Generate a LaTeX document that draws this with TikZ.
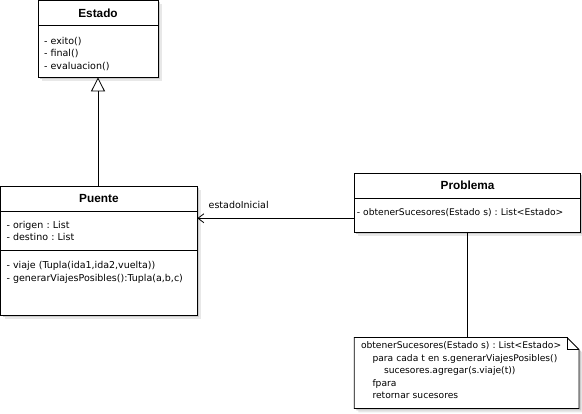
\documentclass[tikz,border=0pt]{standalone}
\usepackage{fontspec}
\setmainfont{DejaVu Sans}
\newfontfamily\titlefont{Liberation Sans}
\frenchspacing
\usetikzlibrary{positioning,shadows,arrows.meta,backgrounds}

\begin{document}
\begin{tikzpicture}[x=1pt,y=1pt]
      \tikzset{sombra/.style={general shadow={fill=black!9,shadow xshift=4pt,shadow yshift=-4pt},general shadow={fill=black!20,shadow xshift=2pt,shadow yshift=-2pt}}}
      \tikzset{titulo/.style={rectangle,draw,fill=white,sombra,line width=0.8pt,inner sep=0pt,outer sep=0pt,font=\titlefont\bfseries\fontsize{11.8}{14}\selectfont}}
      \tikzset{cuerpo/.style={rectangle,draw,fill=white,sombra,line width=0.8pt,inner ysep=0pt,inner xsep=6pt,outer sep=0pt,align=left,font=\fontsize{9.5}{12.5}\selectfont}}
      \tikzset{nota/.style={rectangle,inner ysep=0pt,inner xsep=6.7pt,outer sep=0pt,align=left,font=\fontsize{9.15}{12.6}\selectfont}}
      \tikzset{hoja/.style={draw,fill=white,sombra,line width=0.8pt}}
      \tikzset{gen/.style={-{Triangle[fill=white,length=14pt,width=14pt]},line width=0.8pt}}
      \tikzset{asoc/.style={-{Straight Barb[length=6pt,width=9pt]},line width=0.8pt}}
      \tikzset{linea/.style={line width=0.8pt}}

      \useasboundingbox (0,0) rectangle (582,414);

      \node[titulo,minimum width=120pt,minimum height=25pt,anchor=north west] (est) at (38,413.6) {Estado};
      \node[cuerpo,text width=108pt,text height=18.8pt,text depth=33.2pt,below=0pt of est] (estb) {- exito()\\- final()\\- evaluacion()};

      \node[titulo,minimum width=196.8pt,minimum height=25.5pt,anchor=north west] (pue) at (0.5,228) {Puente};
      \node[cuerpo,text width=184.8pt,text height=17pt,text depth=21.5pt,below=0pt of pue] (puea) {- origen : List\\- destino : List};
      \node[cuerpo,text width=184.8pt,text height=19pt,text depth=46pt,below=0pt of puea] (pueo) {- viaje (Tupla(ida1,ida2,vuelta))\\- generarViajesPosibles():Tupla(a,b,c)};

      \node[titulo,minimum width=226.5pt,minimum height=25.5pt,anchor=north west] (pro) at (354.3,241) {Problema};
      \node[cuerpo,inner xsep=2.5pt,text width=221.5pt,text height=17pt,text depth=16.5pt,font=\fontsize{9.15}{12.5}\selectfont,below=0pt of pro] (prob) {- obtenerSucesores(Estado s) : List<Estado>};

      \node[nota,text width=211.3pt,text height=11pt,text depth=60pt,anchor=north west] (nota) at (354.3,76.5) {obtenerSucesores(Estado s) : List<Estado>\\\hspace*{11.5pt}para cada t en s.generarViajesPosibles()\\\hspace*{23pt}sucesores.agregar(s.viaje(t))\\\hspace*{11.5pt}fpara\\\hspace*{11.5pt}retornar sucesores};
      \begin{scope}[on background layer]
      \draw[hoja] (nota.north west) -- ([xshift=-12pt]nota.north east) -- ([yshift=-12pt]nota.north east) -- (nota.south east) -- (nota.south west) -- cycle;
      \end{scope}
      \draw[linea] ([xshift=-12pt]nota.north east) -- ([xshift=-12pt,yshift=-12pt]nota.north east) -- ([yshift=-12pt]nota.north east);

      \draw[gen] (estb.south |- pue.north) -- (estb.south);

      \coordinate (ini) at ([yshift=-3pt]prob.west);
      \draw[asoc] (ini) -- (ini -| puea.east) node[pos=1,anchor=base west,inner sep=0pt,xshift=11pt,yshift=9.5pt,font=\fontsize{9.5}{12.5}\selectfont] (lini) {estadoInicial};

      \draw[linea] (prob.south) -- (prob.south |- nota.north);

    \end{tikzpicture}
\end{document}
